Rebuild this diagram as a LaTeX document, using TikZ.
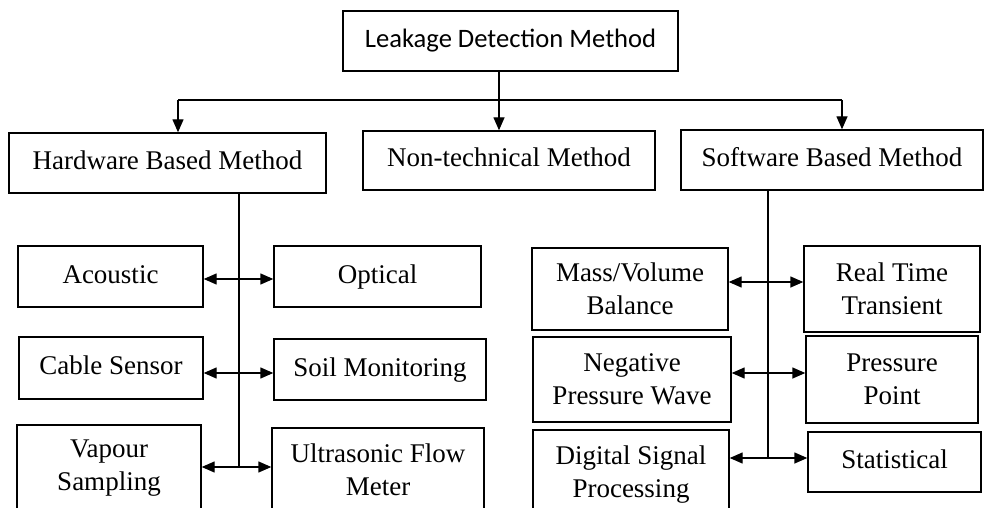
\documentclass[tikz,border=0pt]{standalone}
\usepackage{fontspec}
\setmainfont{Liberation Serif}
\newfontfamily\calibrisans{Carlito}
\usetikzlibrary{arrows.meta}

\tikzset{
  box/.style={draw, line width=1.4pt, inner sep=0pt, align=center,
    font=\fontsize{27}{33}\selectfont},
  oneline/.style={text height=19pt, text depth=6pt},
  link/.style={line width=1.4pt},
  >={Triangle[length=13pt,width=11pt]}
}

\begin{document}
\begin{tikzpicture}[x=1pt,y=-1pt]
    \useasboundingbox (0,0) rectangle (985,508);
    \clip (0,0) rectangle (985,508);

    % root and the three method groups
    \node[box, oneline, minimum width=335pt, minimum height=60pt,
      font=\calibrisans\fontsize{26.6}{32}\selectfont] (root) at (510.5,41) {Leakage Detection Method};
    \node[box, oneline, minimum width=317pt, minimum height=60pt] (hw) at (167.5,163) {Hardware Based Method};
    \node[box, oneline, minimum width=292pt, minimum height=59pt] (nt) at (509,160.5) {Non-technical Method};
    \node[box, oneline, minimum width=302pt, minimum height=60pt] (sw) at (832,160) {Software Based Method};

    % hardware side
    \node[box, oneline, minimum width=185pt, minimum height=61pt] (acoustic) at (110.5,276.5) {Acoustic};
    \node[box, oneline, minimum width=207pt, minimum height=61pt] (optical) at (377.5,276.5) {Optical};
    \node[box, oneline, minimum width=184pt, minimum height=62pt] (cable) at (111,368) {Cable Sensor};
    \node[box, oneline, minimum width=212pt, minimum height=61pt] (soil) at (380,369.5) {Soil Monitoring};
    \node[box, minimum width=184pt, minimum height=87pt] (vapour) at (109,468.5) {Vapour\\Sampling};
    \node[box, minimum width=212pt, minimum height=84pt] (ultra) at (378,470) {Ultrasonic Flow\\Meter};

    % software side
    \node[box, minimum width=196pt, minimum height=82pt] (mass) at (630,289) {Mass/Volume\\Balance};
    \node[box, minimum width=176pt, minimum height=86pt] (realtime) at (892,289) {Real Time\\Transient};
    \node[box, minimum width=198pt, minimum height=85pt] (negative) at (632,379.5) {Negative\\Pressure Wave};
    \node[box, minimum width=172pt, minimum height=87pt] (pressure) at (892,379.5) {Pressure\\Point};
    \node[box, minimum width=196pt, minimum height=89pt] (dsp) at (631,474.5) {Digital Signal\\Processing};
    \node[box, oneline, minimum width=173pt, minimum height=60pt] (statistical) at (894.5,462) {Statistical};

    % top split
    \coordinate (split) at (499,100);
    \coordinate (lt) at (178,100);
    \coordinate (rt) at (842,100);
    \draw[link] (root.south -| split) -- (split);
    \draw[link] (lt) -- (rt);
    \draw[link,->] (lt) -- (lt |- hw.north);
    \draw[link,->] (split) -- (split |- nt.north);
    \draw[link,->] (rt) -- (rt |- sw.north);

    % hardware bus
    \coordinate (hwa) at (239,279);
    \coordinate (hwb) at (239,373);
    \coordinate (hwc) at (239,467);
    \draw[link] (hw.south -| hwc) -- (hwc);
    \draw[link,<->] (acoustic.east |- hwa) -- (optical.west |- hwa);
    \draw[link,<->] (cable.east |- hwb) -- (soil.west |- hwb);
    \draw[link,<->] (vapour.east |- hwc) -- (ultra.west |- hwc);

    % software bus
    \coordinate (swa) at (768,282);
    \coordinate (swb) at (768,373);
    \coordinate (swc) at (768,458);
    \draw[link] (sw.south -| swc) -- (swc);
    \draw[link,<->] (mass.east |- swa) -- (realtime.west |- swa);
    \draw[link,<->] (negative.east |- swb) -- (pressure.west |- swb);
    \draw[link,<->] (dsp.east |- swc) -- (statistical.west |- swc);
\end{tikzpicture}
\end{document}
